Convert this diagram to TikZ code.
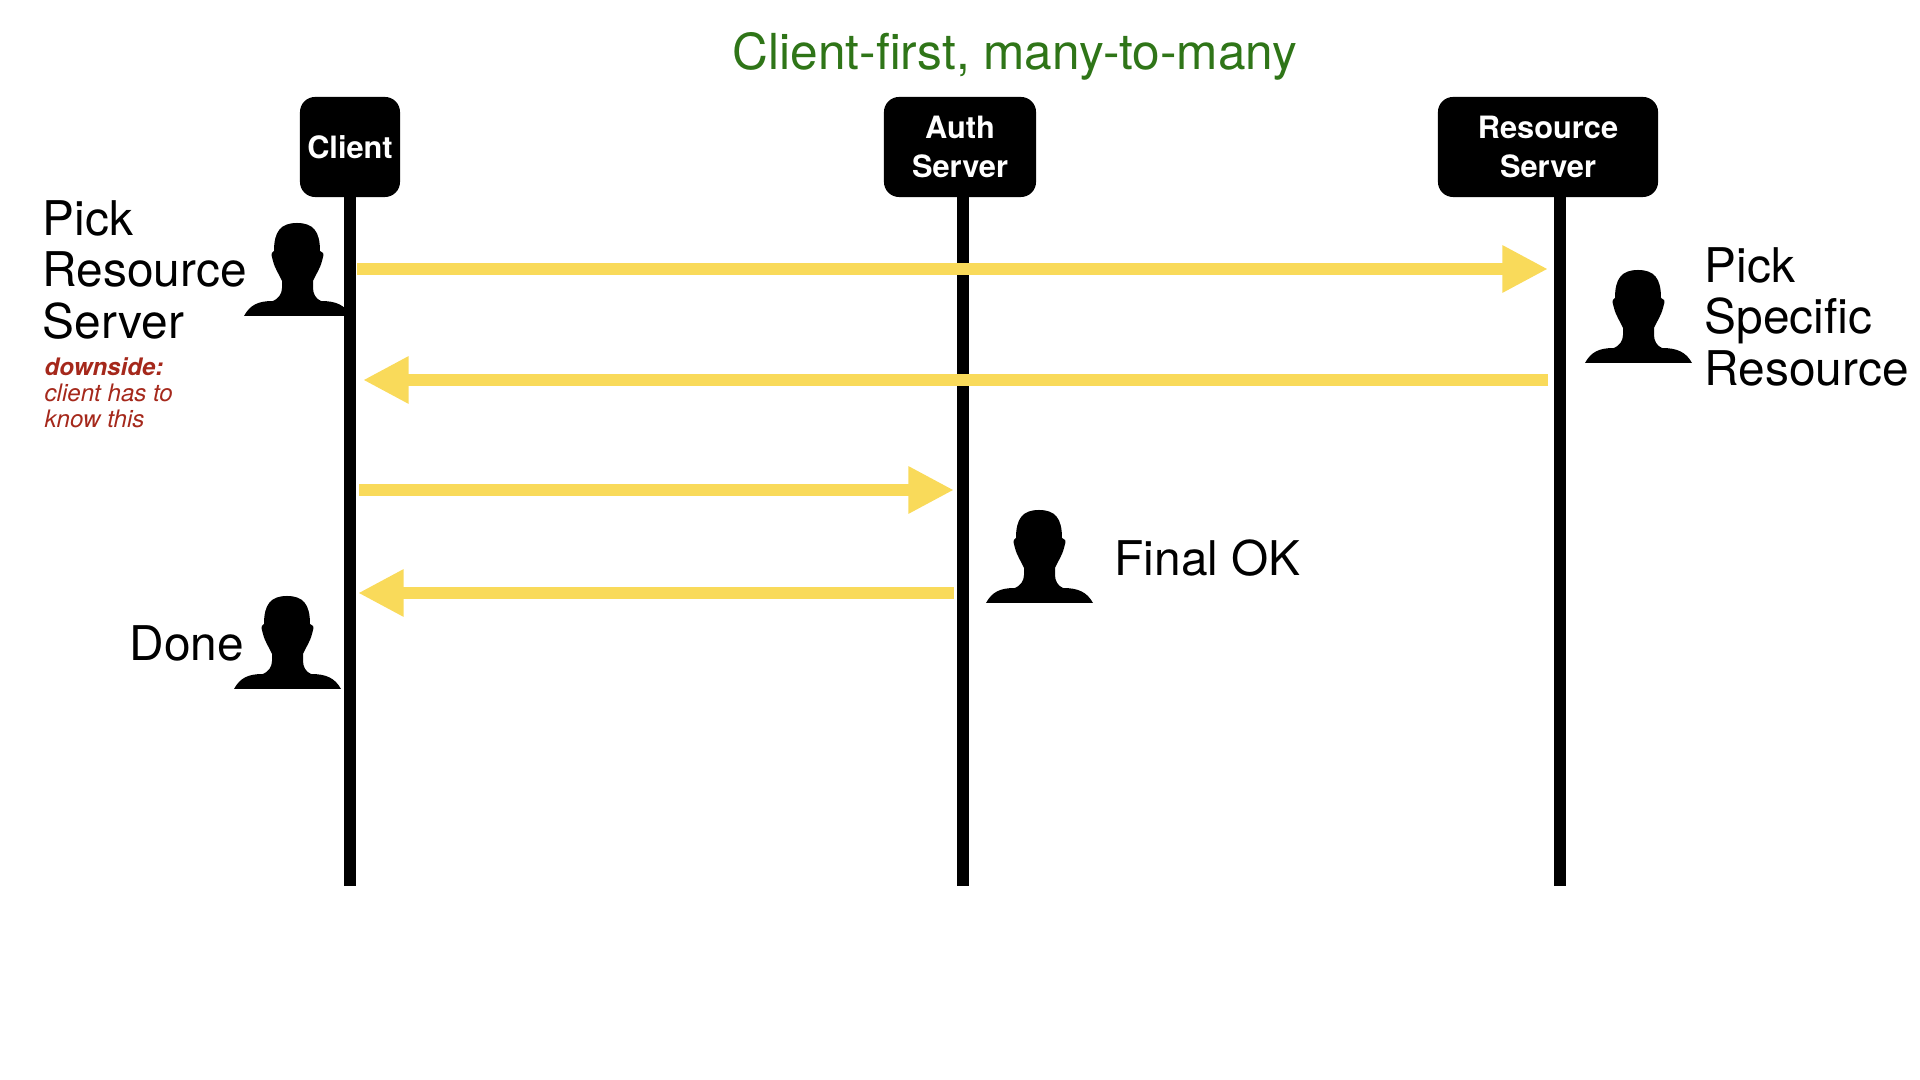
\documentclass[tikz,border=0pt]{standalone}
\usepackage{fontspec}
\setmainfont{TeX Gyre Heros}
\usetikzlibrary{arrows.meta, positioning}
\definecolor{titlegreen}{RGB}{47, 117, 24}
\definecolor{noteRed}{RGB}{165, 40, 27}
\definecolor{flowyellow}{RGB}{249, 218, 90}

\begin{document}
\begin{tikzpicture}[
  x=0.01cm, y=-0.01cm,
  svrbox/.style={fill=black, draw=none, text=white, rounded corners=4.3pt, minimum height=1cm, align=center, inner sep=0pt, font=\fontsize{8.75}{10.9}\selectfont\bfseries},
  lifeline/.style={draw=black, line width=12*0.01cm, shorten <=-1pt},
  flow/.style={draw=flowyellow, line width=12*0.01cm, -{Triangle[length=13pt, width=12.6pt, fill=flowyellow]}},
  saytext/.style={anchor=north west, inner sep=0pt, align=left, font=\fontsize{13.6}{14.6}\selectfont},
  notetext/.style={anchor=north west, inner sep=0pt, align=left, text=noteRed, font=\fontsize{6.85}{7.4}\selectfont\itshape},
  person/.pic={
    \fill[black] (0,93) .. controls (6,82) and (14,78) .. (29,78)
      .. controls (34,76) and (38,71) .. (38,65) -- (38,58)
      .. controls (35,51) and (31,46) .. (29,38)
      .. controls (28,35) and (27,31) .. (28,30) -- (30,28)
      .. controls (30,8) and (37,0) .. (53,0)
      .. controls (69,0) and (76,8) .. (76,28) -- (79,30)
      .. controls (80,31) and (79,35) .. (78,38)
      .. controls (76,46) and (72,51) .. (69,58) -- (69,65)
      .. controls (69,71) and (72,76) .. (77,78)
      .. controls (92,78) and (101,82) .. (107,93) -- cycle;
  }
]
  \useasboundingbox (0,0) rectangle (1920,1080);

  \node[anchor=base, text=titlegreen, inner sep=0pt, font=\fontsize{14.1}{16}\selectfont] (title) at (1015,70) {Client-first, many-to-many};

  \pic at (244,223) {person};
  \pic at (1585,270) {person};
  \pic at (986,510) {person};
  \pic at (234,596) {person};

  \node[svrbox, minimum width=1cm] (client) at (350,147) {Client};
  \node[svrbox, minimum width=1.52cm] (auth) at (960,147) {Auth\\Server};
  \node[svrbox, minimum width=2.2cm] (resource) at (1548,147) {Resource\\Server};

  \coordinate (clientend) at (350,886);
  \coordinate (authend) at (963,886);
  \coordinate (resourceend) at (1560,886);
  \draw[lifeline] (clientend |- client.south) -- (clientend);
  \draw[lifeline] (authend |- auth.south) -- (authend);
  \draw[lifeline] (resourceend |- resource.south) -- (resourceend);

  % yellow requests, top to bottom
  \coordinate (cl1) at (357,269);
  \coordinate (rs1) at (1548,269);
  \coordinate (rs2) at (1548,380);
  \coordinate (cl2) at (363,380);
  \coordinate (cl3) at (359,490);
  \coordinate (as3) at (954,490);
  \coordinate (as4) at (954,593);
  \coordinate (cl4) at (358,593);
  \draw[flow] (cl1) -- (rs1);
  \draw[flow] (rs2) -- (cl2);
  \draw[flow] (cl3) -- (as3);
  \draw[flow] (as4) -- (cl4);

  \node[saytext] (pickrs) at (42,200) {Pick\\Resource\\Server};
  \node[notetext] (downside) at (44,357) {\textbf{downside:}\\client has to\\know this};
  \node[saytext] (picksr) at (1704,247) {Pick\\Specific\\Resource};
  \node[saytext] (finalok) at (1114,539) {Final OK};
  \node[saytext] (done) at (129,625) {Done};
\end{tikzpicture}
\end{document}
